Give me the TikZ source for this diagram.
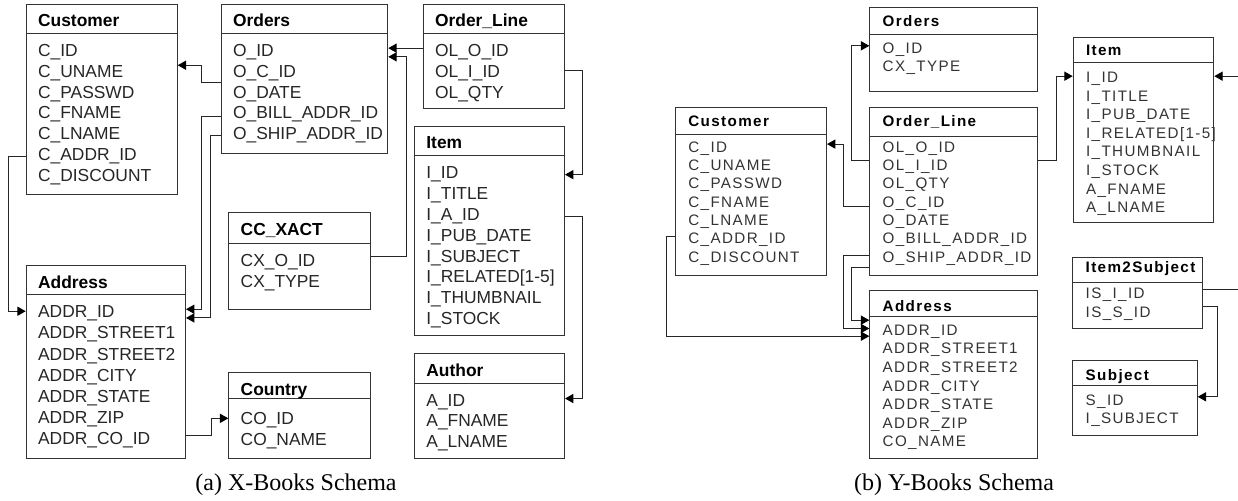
\documentclass[tikz,border=0pt]{standalone}
\usepackage{fontspec}
\setmainfont{Liberation Serif}
\newfontfamily\tblfont{Liberation Sans}
\newfontfamily\tblwide[LetterSpace=9]{Liberation Sans}
\usetikzlibrary{arrows.meta}

\tikzset{
  tbl/.style={draw=black!80, line width=0.5pt, rectangle, anchor=north west, inner sep=0pt},
  hline/.style={draw=black!80, line width=0.5pt},
  hdr/.style={anchor=base west, inner sep=0pt, font=\tblfont\bfseries\fontsize{8.7}{10}\selectfont},
  fld/.style={anchor=base west, inner sep=0pt, text=black!85, font=\tblfont\fontsize{8.7}{10}\selectfont},
  whdr/.style={anchor=base west, inner sep=0pt, font=\tblwide\bfseries\fontsize{7.6}{9}\selectfont},
  wfld/.style={anchor=base west, inner sep=0pt, text=black!80, font=\tblwide\fontsize{7.6}{9}\selectfont},
  fk/.style={draw=black!85, line width=0.5pt, -{Triangle[length=4.2pt,width=4.6pt,color=black]}},
  caption/.style={anchor=base, inner sep=0pt, font=\fontsize{12}{14}\selectfont}
}

\begin{document}
\begin{tikzpicture}[x=0.5pt, y=-0.5pt]
    \useasboundingbox (0,0) rectangle (1238,501);

    % X-Books: Customer
    \node[tbl, minimum width=75.5pt, minimum height=95pt] (xcust) at (25.7,4) {};
    \draw[hline] ([yshift=-14.65pt]xcust.north west) -- ([yshift=-14.65pt]xcust.north east);
    \node[hdr] (xcust-h) at ([shift={(12,23)}]xcust.north west) {Customer};
    \node[fld] (xc-id) at ([shift={(12,52.9)}]xcust.north west) {C\_ID};
    \node[fld] (xc-uname) at ([yshift=-10.35pt]xc-id.base west) {C\_UNAME};
    \node[fld] (xc-passwd) at ([yshift=-10.35pt]xc-uname.base west) {C\_PASSWD};
    \node[fld] (xc-fname) at ([yshift=-10.35pt]xc-passwd.base west) {C\_FNAME};
    \node[fld] (xc-lname) at ([yshift=-10.35pt]xc-fname.base west) {C\_LNAME};
    \node[fld] (xc-addr) at ([yshift=-10.35pt]xc-lname.base west) {C\_ADDR\_ID};
    \node[fld] (xc-disc) at ([yshift=-10.35pt]xc-addr.base west) {C\_DISCOUNT};

    % X-Books: Orders
    \node[tbl, minimum width=83.3pt, minimum height=74.35pt] (xord) at (220.7,4) {};
    \draw[hline] ([yshift=-14.65pt]xord.north west) -- ([yshift=-14.65pt]xord.north east);
    \node[hdr] (xord-h) at ([shift={(12,23)}]xord.north west) {Orders};
    \node[fld] (xo-id) at ([shift={(12,52.9)}]xord.north west) {O\_ID};
    \node[fld] (xo-cid) at ([yshift=-10.35pt]xo-id.base west) {O\_C\_ID};
    \node[fld] (xo-date) at ([yshift=-10.35pt]xo-cid.base west) {O\_DATE};
    \node[fld] (xo-bill) at ([yshift=-10.35pt]xo-date.base west) {O\_BILL\_ADDR\_ID};
    \node[fld] (xo-ship) at ([yshift=-10.35pt]xo-bill.base west) {O\_SHIP\_ADDR\_ID};

    % X-Books: Order_Line
    \node[tbl, minimum width=70.65pt, minimum height=52.15pt] (xol) at (422.7,4) {};
    \draw[hline] ([yshift=-14.65pt]xol.north west) -- ([yshift=-14.65pt]xol.north east);
    \node[hdr] (xol-h) at ([shift={(12,23)}]xol.north west) {Order\_Line};
    \node[fld] (xol-oid) at ([shift={(12,52.9)}]xol.north west) {OL\_O\_ID};
    \node[fld] (xol-iid) at ([yshift=-10.35pt]xol-oid.base west) {OL\_I\_ID};
    \node[fld] (xol-qty) at ([yshift=-10.35pt]xol-iid.base west) {OL\_QTY};

    % X-Books: Item
    \node[tbl, minimum width=75pt, minimum height=104.5pt] (xitem) at (414,126) {};
    \draw[hline] ([yshift=-15pt]xitem.north west) -- ([yshift=-15pt]xitem.north east);
    \node[hdr] (xitem-h) at ([shift={(12,23)}]xitem.north west) {Item};
    \node[fld] (xi-id) at ([shift={(12,52.9)}]xitem.north west) {I\_ID};
    \node[fld] (xi-title) at ([yshift=-10.4pt]xi-id.base west) {I\_TITLE};
    \node[fld] (xi-aid) at ([yshift=-10.4pt]xi-title.base west) {I\_A\_ID};
    \node[fld] (xi-pub) at ([yshift=-10.4pt]xi-aid.base west) {I\_PUB\_DATE};
    \node[fld] (xi-subj) at ([yshift=-10.4pt]xi-pub.base west) {I\_SUBJECT};
    \node[fld] (xi-rel) at ([yshift=-10.4pt]xi-subj.base west) {I\_RELATED[1-5]};
    \node[fld] (xi-thumb) at ([yshift=-10.4pt]xi-rel.base west) {I\_THUMBNAIL};
    \node[fld] (xi-stock) at ([yshift=-10.4pt]xi-thumb.base west) {I\_STOCK};

    % X-Books: Author
    \node[tbl, minimum width=75pt, minimum height=52.5pt] (xauth) at (414,353.3) {};
    \draw[hline] ([yshift=-15pt]xauth.north west) -- ([yshift=-15pt]xauth.north east);
    \node[hdr] (xauth-h) at ([shift={(12,23)}]xauth.north west) {Author};
    \node[fld] (xau-id) at ([shift={(12,52.9)}]xauth.north west) {A\_ID};
    \node[fld] (xau-fname) at ([yshift=-10.35pt]xau-id.base west) {A\_FNAME};
    \node[fld] (xau-lname) at ([yshift=-10.35pt]xau-fname.base west) {A\_LNAME};

    % X-Books: CC_XACT
    \node[tbl, minimum width=70.85pt, minimum height=48.8pt] (xcc) at (228.3,211.7) {};
    \draw[hline] ([yshift=-16.15pt]xcc.north west) -- ([yshift=-16.15pt]xcc.north east);
    \node[hdr] (xcc-h) at ([shift={(12,23.8)}]xcc.north west) {CC\_XACT};
    \node[fld] (xcx-oid) at ([shift={(12,54.5)}]xcc.north west) {CX\_O\_ID};
    \node[fld] (xcx-type) at ([yshift=-10.6pt]xcx-oid.base west) {CX\_TYPE};

    % X-Books: Address
    \node[tbl, minimum width=79.65pt, minimum height=96.65pt] (xaddr) at (25.7,265) {};
    \draw[hline] ([yshift=-15pt]xaddr.north west) -- ([yshift=-15pt]xaddr.north east);
    \node[hdr] (xaddr-h) at ([shift={(12,24)}]xaddr.north west) {Address};
    \node[fld] (xa-id) at ([shift={(12,52.9)}]xaddr.north west) {ADDR\_ID};
    \node[fld] (xa-st1) at ([yshift=-10.55pt]xa-id.base west) {ADDR\_STREET1};
    \node[fld] (xa-st2) at ([yshift=-10.55pt]xa-st1.base west) {ADDR\_STREET2};
    \node[fld] (xa-city) at ([yshift=-10.55pt]xa-st2.base west) {ADDR\_CITY};
    \node[fld] (xa-state) at ([yshift=-10.55pt]xa-city.base west) {ADDR\_STATE};
    \node[fld] (xa-zip) at ([yshift=-10.55pt]xa-state.base west) {ADDR\_ZIP};
    \node[fld] (xa-coid) at ([yshift=-10.55pt]xa-zip.base west) {ADDR\_CO\_ID};

    % X-Books: Country
    \node[tbl, minimum width=70.85pt, minimum height=43.3pt] (xctry) at (228.3,371.7) {};
    \draw[hline] ([yshift=-13.3pt]xctry.north west) -- ([yshift=-13.3pt]xctry.north east);
    \node[hdr] (xctry-h) at ([shift={(12,23.8)}]xctry.north west) {Country};
    \node[fld] (xco-id) at ([shift={(12,52.8)}]xctry.north west) {CO\_ID};
    \node[fld] (xco-name) at ([yshift=-10.35pt]xco-id.base west) {CO\_NAME};

    % X-Books: references
    \draw[fk] ([yshift=-4.5pt]xord.west |- xo-cid) -- ++(-19,0) |- ([yshift=4pt]xcust.east |- xc-uname);
    \draw[fk] ([yshift=-1.1pt]xord.west |- xo-bill) -- ++(-19,0) |- ([yshift=2.2pt]xaddr.east |- xa-id);
    \draw[fk] (xord.west |- xo-ship) -- ++(-10,0) |- ([yshift=-2.15pt]xaddr.east |- xa-id);
    \draw[fk] (xcust.west |- xc-addr) -- ++(-17.4,0) |- ([yshift=1.2pt]xaddr.west |- xa-id);
    \draw[fk] ([yshift=2.5pt]xaddr.east |- xa-coid) -- ++(25.7,0) |- ([yshift=0.9pt]xctry.west |- xco-id);
    \draw[fk] ([yshift=2.2pt]xol.west |- xol-oid) -- ([yshift=2.2pt]xord.east |- xol-oid);
    \draw[fk] ([yshift=2.9pt]xcc.east |- xcx-oid) -- ++(35.7,0) |- ([yshift=-2.15pt]xord.east |- xo-id);
    \draw[fk] ([yshift=1.5pt]xol.east |- xol-iid) -- ++(17.7,0) |- (xitem.east |- xi-id);
    \draw[fk] (xitem.east |- xi-aid) -- ++(17.7,0) |- ([yshift=1.7pt]xauth.east |- xau-id);

    % Y-Books: Orders
    \node[tbl, minimum width=84pt, minimum height=42pt] (yord) at (869.3,6.7) {};
    \draw[hline] ([yshift=-13.8pt]yord.north west) -- ([yshift=-13.8pt]yord.north east);
    \node[whdr] (yord-h) at ([shift={(13,19.4)}]yord.north west) {Orders};
    \node[wfld] (yo-id) at ([shift={(13,46.4)}]yord.north west) {O\_ID};
    \node[wfld] (yo-cxtype) at ([yshift=-9.17pt]yo-id.base west) {CX\_TYPE};

    % Y-Books: Customer
    \node[tbl, minimum width=75.5pt, minimum height=84.15pt] (ycust) at (675,106.7) {};
    \draw[hline] ([yshift=-14.15pt]ycust.north west) -- ([yshift=-14.15pt]ycust.north east);
    \node[whdr] (ycust-h) at ([shift={(13,19.4)}]ycust.north west) {Customer};
    \node[wfld] (yc-id) at ([shift={(13,45.4)}]ycust.north west) {C\_ID};
    \node[wfld] (yc-uname) at ([yshift=-9.17pt]yc-id.base west) {C\_UNAME};
    \node[wfld] (yc-passwd) at ([yshift=-9.17pt]yc-uname.base west) {C\_PASSWD};
    \node[wfld] (yc-fname) at ([yshift=-9.17pt]yc-passwd.base west) {C\_FNAME};
    \node[wfld] (yc-lname) at ([yshift=-9.17pt]yc-fname.base west) {C\_LNAME};
    \node[wfld] (yc-addr) at ([yshift=-9.17pt]yc-lname.base west) {C\_ADDR\_ID};
    \node[wfld] (yc-disc) at ([yshift=-9.17pt]yc-addr.base west) {C\_DISCOUNT};

    % Y-Books: Order_Line
    \node[tbl, minimum width=84pt, minimum height=84pt] (yol) at (869.3,107) {};
    \draw[hline] ([yshift=-14.85pt]yol.north west) -- ([yshift=-14.85pt]yol.north east);
    \node[whdr] (yol-h) at ([shift={(13,19.1)}]yol.north west) {Order\_Line};
    \node[wfld] (yol-oid) at ([shift={(13,45.1)}]yol.north west) {OL\_O\_ID};
    \node[wfld] (yol-iid) at ([yshift=-9.17pt]yol-oid.base west) {OL\_I\_ID};
    \node[wfld] (yol-qty) at ([yshift=-9.17pt]yol-iid.base west) {OL\_QTY};
    \node[wfld] (yo-cid) at ([yshift=-9.17pt]yol-qty.base west) {O\_C\_ID};
    \node[wfld] (yo-date) at ([yshift=-9.17pt]yo-cid.base west) {O\_DATE};
    \node[wfld] (yo-bill) at ([yshift=-9.17pt]yo-date.base west) {O\_BILL\_ADDR\_ID};
    \node[wfld] (yo-ship) at ([yshift=-9.17pt]yo-bill.base west) {O\_SHIP\_ADDR\_ID};

    % Y-Books: Address
    \node[tbl, minimum width=84pt, minimum height=84.15pt] (yaddr) at (869.3,290) {};
    \draw[hline] ([yshift=-13.35pt]yaddr.north west) -- ([yshift=-13.35pt]yaddr.north east);
    \node[whdr] (yaddr-h) at ([shift={(13,21.1)}]yaddr.north west) {Address};
    \node[wfld] (ya-id) at ([shift={(13,45.4)}]yaddr.north west) {ADDR\_ID};
    \node[wfld] (ya-st1) at ([yshift=-9.3pt]ya-id.base west) {ADDR\_STREET1};
    \node[wfld] (ya-st2) at ([yshift=-9.3pt]ya-st1.base west) {ADDR\_STREET2};
    \node[wfld] (ya-city) at ([yshift=-9.3pt]ya-st2.base west) {ADDR\_CITY};
    \node[wfld] (ya-state) at ([yshift=-9.3pt]ya-city.base west) {ADDR\_STATE};
    \node[wfld] (ya-zip) at ([yshift=-9.3pt]ya-state.base west) {ADDR\_ZIP};
    \node[wfld] (ya-coname) at ([yshift=-9.3pt]ya-zip.base west) {CO\_NAME};

    % Y-Books: Item
    \node[tbl, minimum width=70.3pt, minimum height=92.2pt] (yitem) at (1072.7,37.3) {};
    \draw[hline] ([yshift=-12.5pt]yitem.north west) -- ([yshift=-12.5pt]yitem.north east);
    \node[whdr] (yitem-h) at ([shift={(13,18.1)}]yitem.north west) {Item};
    \node[wfld] (yi-id) at ([shift={(13,45.4)}]yitem.north west) {I\_ID};
    \node[wfld] (yi-title) at ([yshift=-9.28pt]yi-id.base west) {I\_TITLE};
    \node[wfld] (yi-pub) at ([yshift=-9.28pt]yi-title.base west) {I\_PUB\_DATE};
    \node[wfld] (yi-rel) at ([yshift=-9.28pt]yi-pub.base west) {I\_RELATED[1-5]};
    \node[wfld] (yi-thumb) at ([yshift=-9.28pt]yi-rel.base west) {I\_THUMBNAIL};
    \node[wfld] (yi-stock) at ([yshift=-9.28pt]yi-thumb.base west) {I\_STOCK};
    \node[wfld] (yi-afname) at ([yshift=-9.28pt]yi-stock.base west) {A\_FNAME};
    \node[wfld] (yi-alname) at ([yshift=-9.28pt]yi-afname.base west) {A\_LNAME};

    % Y-Books: Item2Subject
    \node[tbl, minimum width=65pt, minimum height=35.5pt] (yis) at (1072.3,257.3) {};
    \draw[hline] ([yshift=-12.5pt]yis.north west) -- ([yshift=-12.5pt]yis.north east);
    \node[whdr] (yis-h) at ([shift={(13,15.4)}]yis.north west) {Item2Subject};
    \node[wfld] (yis-iid) at ([shift={(13,41.4)}]yis.north west) {IS\_I\_ID};
    \node[wfld] (yis-sid) at ([yshift=-9.2pt]yis-iid.base west) {IS\_S\_ID};

    % Y-Books: Subject
    \node[tbl, minimum width=62.2pt, minimum height=37.5pt] (ysub) at (1072.3,360) {};
    \draw[hline] ([yshift=-13pt]ysub.north west) -- ([yshift=-13pt]ysub.north east);
    \node[whdr] (ysub-h) at ([shift={(13,20.4)}]ysub.north west) {Subject};
    \node[wfld] (ys-id) at ([shift={(13,45.4)}]ysub.north west) {S\_ID};
    \node[wfld] (ys-subj) at ([yshift=-9.15pt]ys-id.base west) {I\_SUBJECT};

    % Y-Books: references
    \draw[fk] ([yshift=-5.9pt]yol.west |- yol-oid) -- ++(-17.6,0) |- ([yshift=1.75pt]yord.west |- yo-id);
    \draw[fk] ([yshift=-1.75pt]yol.west |- yo-cid) -- ++(-26,0) |- ([yshift=2.1pt]ycust.east |- yc-id);
    \draw[fk] ([yshift=3.25pt]yol.east |- yol-iid) -- ++(17.7,0) |- ([yshift=1.4pt]yitem.west |- yi-id);
    \draw[fk] ([yshift=-7.55pt]yol.west |- yo-bill) -- ++(-26,0) |- ([yshift=1.6pt]yaddr.west |- ya-id);
    \draw[fk] ([yshift=-4.5pt]yol.west |- yo-ship) -- ++(-17.6,0) |- ([yshift=5.75pt]yaddr.west |- ya-id);
    \draw[fk] ([yshift=1.6pt]ycust.west |- yc-addr) -- ++(-8.3,0) |- ([yshift=-2.25pt]yaddr.west |- ya-id);
    \draw[fk] ([yshift=2.75pt]yis.east |- yis-iid) -- ++(38.7,0) |- ([yshift=1.4pt]yitem.east |- yi-id);
    \draw[fk] ([yshift=3.6pt]yis.east |- yis-sid) -- ++(14.4,0) |- ([yshift=2.4pt]ysub.east |- ys-id);

    % Captions
    \node[caption] (capa) at (296,490.7) {(a) X-Books Schema};
    \node[caption] (capb) at (954,490.7) {(b) Y-Books Schema};
\end{tikzpicture}
\end{document}
